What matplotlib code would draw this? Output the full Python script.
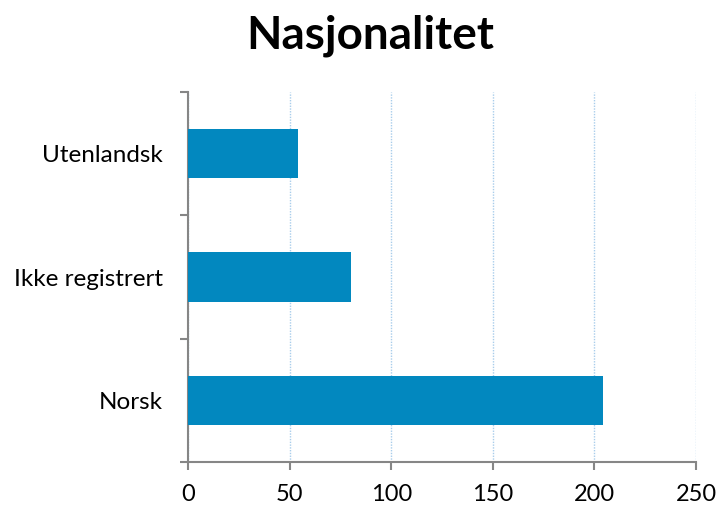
import matplotlib
matplotlib.use("Agg")
import matplotlib.pyplot as plt
import numpy as np

categories = ["Norsk", "Ikke registrert", "Utenlandsk"]
values = [204, 80, 54]
xticks = [0, 50, 100, 150, 200, 250]

plt.rcParams['font.family'] = ['Lato', 'DejaVu Sans']

fig = plt.figure(figsize=(7.17, 5.07), dpi=100)
ax = fig.add_axes([188/717, 45/507, 508/717, 370/507])

y = np.arange(len(categories))
ax.barh(y, values, height=0.4, color="#0288BF", zorder=3)
ax.set_xlim(0, 250)
ax.set_ylim(-0.5, len(categories) - 0.5)
ax.set_xticks(xticks)
ax.set_xticklabels([str(t) for t in xticks], fontsize=17)
ax.set_yticks(y)
ax.set_yticklabels(categories, fontsize=17.5)
ax.set_yticks(np.arange(-0.5, len(categories), 1.0), minor=True)
ax.tick_params(axis='y', which='major', length=0, pad=18)
ax.tick_params(axis='y', which='minor', length=6, width=1.5, color="#868686", direction='out')
ax.tick_params(axis='x', which='major', length=6, width=1.5, color="#868686", direction='out', pad=10)

ax.xaxis.grid(True, color="#A9CDEB", linestyle=(0, (1, 1)), linewidth=1, zorder=0)
for s in ["top", "right"]:
    ax.spines[s].set_visible(False)
for s in ["left", "bottom"]:
    ax.spines[s].set_color("#868686")
    ax.spines[s].set_linewidth(1.5)

fig.text(370/717, 1 - 36/507, "Nasjonalitet", ha="center", va="center", fontsize=33, fontweight="bold")

fig.savefig("out.png", dpi=100)
